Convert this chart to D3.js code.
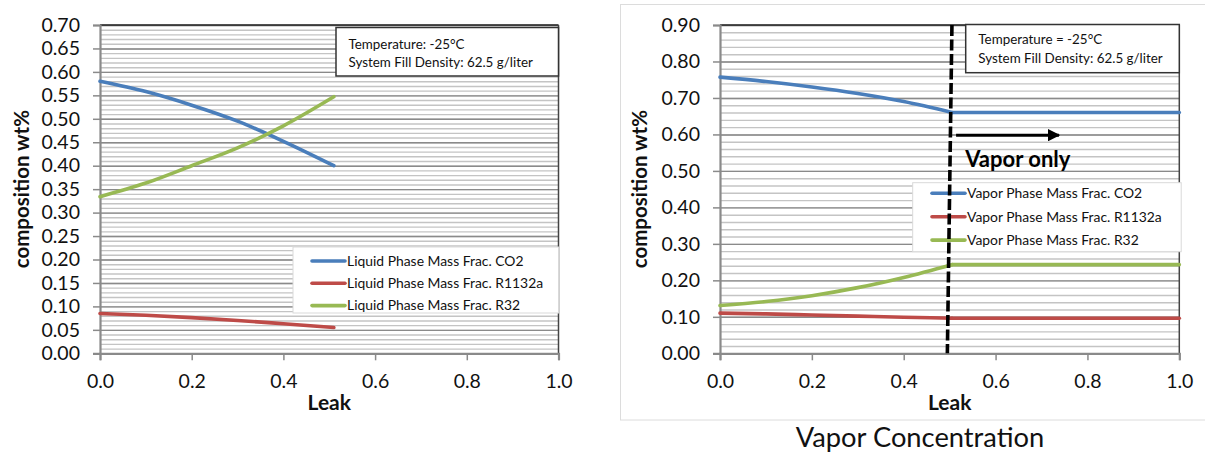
<!DOCTYPE html>
<html>
<head>
<meta charset="utf-8">
<script src="https://cdn.jsdelivr.net/npm/d3@7"></script>
<style>
  html, body { margin: 0; padding: 0; background: #fff; }
  svg { display: block; font-family: Lato, "Open Sans", sans-serif; }
</style>
</head>
<body>
<svg id="chart" width="1205" height="452"></svg>
<script>
// ---------- DATA ----------
const leftLeak      = [0, 0.1, 0.2, 0.3, 0.4, 0.51];
const leftCO2       = [0.580, 0.558, 0.529, 0.495, 0.452, 0.400];
const leftR1132a    = [0.085, 0.081, 0.076, 0.070, 0.063, 0.055];
const leftR32       = [0.334, 0.363, 0.400, 0.438, 0.485, 0.547];
const leftNames     = ["Liquid Phase Mass Frac. CO2", "Liquid Phase Mass Frac. R1132a", "Liquid Phase Mass Frac. R32"];

const rightLeak     = [0, 0.1, 0.2, 0.3, 0.4, 0.505, 1.0];
const rightCO2      = [0.757, 0.745, 0.730, 0.712, 0.690, 0.660, 0.660];
const rightR1132a   = [0.110, 0.108, 0.105, 0.102, 0.099, 0.096, 0.096];
const rightR32      = [0.131, 0.142, 0.158, 0.180, 0.208, 0.243, 0.243];
const rightNames    = ["Vapor Phase Mass Frac. CO2", "Vapor Phase Mass Frac. R1132a", "Vapor Phase Mass Frac. R32"];
const vaporBreakIndex = 5; // point where the liquid phase disappears

const xTicks        = [0, 0.2, 0.4, 0.6, 0.8, 1.0];
const leftYTicks    = [0, 0.05, 0.10, 0.15, 0.20, 0.25, 0.30, 0.35, 0.40, 0.45, 0.50, 0.55, 0.60, 0.65, 0.70];
const rightYTicks   = [0, 0.10, 0.20, 0.30, 0.40, 0.50, 0.60, 0.70, 0.80, 0.90];
const leftNote      = ["Temperature: -25°C", "System Fill Density: 62.5 g/liter"];
const rightNote     = ["Temperature = -25°C", "System Fill Density: 62.5 g/liter"];
const vaporLineLeak = [0.505, 0.495];   // top, bottom (hand-drawn, slightly slanted)
const arrowLeak     = [0.514, 0.738];
const arrowValue    = 0.598;
const vaporOnlyAt   = [0.534, 0.512];

const colors = ["#4A7EBB", "#BE4B48", "#98B954"];

// ---------- DRAW ----------
const svg = d3.select("#chart");

// frame around right chart
svg.append("rect").attr("x", 620.5).attr("y", 4.5).attr("width", 600).attr("height", 415.5)
  .attr("fill", "none").attr("stroke", "#dcdcdc").attr("stroke-width", 1);
svg.append("text").attr("x", 920).attr("y", 447).attr("text-anchor", "middle")
  .attr("font-size", 27.3).attr("fill", "#111").text("Vapor Concentration");

function panel(opt) {
  const g = svg.append("g");
  const x = d3.scaleLinear().domain([0, 1]).range([opt.x0, opt.x1]);
  const y = d3.scaleLinear().domain([0, opt.ymax]).range([opt.y1, opt.y0]);

  // minor gridlines
  const minor = d3.range(0, opt.ymax + 1e-9, opt.minor);
  g.append("g").call(d3.axisLeft(y).tickValues(minor).tickSize(-(opt.x1 - opt.x0)).tickFormat(""))
    .attr("transform", `translate(${opt.x0},0)`)
    .call(s => s.select(".domain").remove())
    .call(s => s.selectAll("line").attr("stroke", "#c4c4c4").attr("stroke-width", 1.4));
  // major gridlines
  g.append("g").call(d3.axisLeft(y).tickValues(opt.yTicks).tickSize(-(opt.x1 - opt.x0)).tickFormat(""))
    .attr("transform", `translate(${opt.x0},0)`)
    .call(s => s.select(".domain").remove())
    .call(s => s.selectAll("line").attr("stroke", "#8a8a8a").attr("stroke-width", 1.4));

  // top & right border
  g.append("line").attr("x1", opt.x0).attr("x2", opt.x1).attr("y1", opt.y0).attr("y2", opt.y0)
    .attr("stroke", "#222").attr("stroke-width", 1.5);
  g.append("line").attr("x1", opt.x1).attr("x2", opt.x1).attr("y1", opt.y0).attr("y2", opt.y1)
    .attr("stroke", "#444").attr("stroke-width", 1.5);

  // y axis
  const ya = g.append("g").attr("transform", `translate(${opt.x0},0)`)
    .call(d3.axisLeft(y).tickValues(opt.yTicks).tickSize(7).tickPadding(13).tickFormat(d3.format(".2f")));
  ya.select(".domain").attr("stroke", "#8a8a8a").attr("stroke-width", 2.2);
  ya.selectAll("line").attr("stroke", "#8a8a8a").attr("stroke-width", 1.5);
  ya.selectAll("text").attr("font-size", 19.5).attr("fill", "#111").attr("font-family", "Lato");

  // x axis
  const xa = g.append("g").attr("transform", `translate(0,${opt.y1})`)
    .call(d3.axisBottom(x).tickValues(xTicks).tickSize(7).tickPadding(14).tickFormat(d3.format(".1f")));
  xa.select(".domain").attr("stroke", "#8a8a8a").attr("stroke-width", 2.2);
  xa.selectAll("line").attr("stroke", "#8a8a8a").attr("stroke-width", 1.5);
  xa.selectAll("text").attr("font-size", 19.5).attr("fill", "#111").attr("font-family", "Lato");

  // axis titles
  g.append("text").attr("x", (opt.x0 + opt.x1) / 2).attr("y", 410).attr("text-anchor", "middle")
    .attr("font-size", 21).attr("font-weight", "bold").attr("fill", "#111").text("Leak");
  g.append("text").attr("transform", `translate(${opt.ylabX},${(opt.y0 + opt.y1) / 2}) rotate(-90)`)
    .attr("text-anchor", "middle").attr("font-size", 20.5).attr("font-weight", "bold").attr("fill", "#111")
    .text("composition wt%");

  return {g, x, y};
}

function drawSeries(p, leak, vals, color, split) {
  const pts = leak.map((d, i) => [d, vals[i]]);
  const curvePart = split != null ? pts.slice(0, split + 1) : pts;
  const line = d3.line().x(d => p.x(d[0])).y(d => p.y(d[1])).curve(d3.curveMonotoneX);
  p.g.append("path").attr("d", line(curvePart)).attr("fill", "none").attr("stroke", color)
    .attr("stroke-width", 3.6).attr("stroke-linecap", "round");
  if (split != null) {
    const lin = d3.line().x(d => p.x(d[0])).y(d => p.y(d[1]));
    p.g.append("path").attr("d", lin(pts.slice(split))).attr("fill", "none").attr("stroke", color)
      .attr("stroke-width", 3.6).attr("stroke-linecap", "round");
  }
}

function legend(p, bx, by, bw, bh, names, y0, dy, lx0, lx1) {
  p.g.append("rect").attr("x", bx).attr("y", by).attr("width", bw).attr("height", bh)
    .attr("fill", "#fff").attr("stroke", "#d9d9d9").attr("stroke-width", 1);
  names.forEach((n, i) => {
    p.g.append("line").attr("x1", lx0).attr("x2", lx1).attr("y1", y0 + i * dy).attr("y2", y0 + i * dy)
      .attr("stroke", colors[i]).attr("stroke-width", 3.6).attr("stroke-linecap", "round");
    p.g.append("text").attr("x", lx1 + 2).attr("y", y0 + i * dy).attr("dy", "0.35em")
      .attr("font-size", 13.9).attr("fill", "#111").text(n);
  });
}

function note(p, bx, by, bw, bh, lines, tx, ty0, dy) {
  p.g.append("rect").attr("x", bx).attr("y", by).attr("width", bw).attr("height", bh)
    .attr("fill", "#fff").attr("stroke", "#333").attr("stroke-width", 1.5);
  lines.forEach((t, i) => {
    p.g.append("text").attr("x", tx).attr("y", ty0 + i * dy).attr("font-size", 13.4)
      .attr("fill", "#111").text(t);
  });
}

// LEFT PANEL
const L = panel({x0: 100, x1: 558.5, y0: 25, y1: 353.3, ymax: 0.70, minor: 0.01, yTicks: leftYTicks, ylabX: 29});
note(L, 336, 27.5, 222.5, 48.5, leftNote, 348.5, 48.5, 18.5);
legend(L, 293, 247, 265.5, 66, leftNames, 261, 22.3, 312, 345);
drawSeries(L, leftLeak, leftCO2, colors[0]);
drawSeries(L, leftLeak, leftR1132a, colors[1]);
drawSeries(L, leftLeak, leftR32, colors[2]);

// RIGHT PANEL
const R = panel({x0: 720, x1: 1179.3, y0: 25, y1: 353.3, ymax: 0.90, minor: 0.02, yTicks: rightYTicks, ylabX: 647});
note(R, 965.7, 24.5, 213.6, 48.2, rightNote, 978.3, 43.5, 19.5);
legend(R, 912.7, 182.7, 268.5, 69, rightNames, 193.3, 23.4, 932, 965);
drawSeries(R, rightLeak, rightCO2, colors[0], vaporBreakIndex);
drawSeries(R, rightLeak, rightR1132a, colors[1], vaporBreakIndex);
drawSeries(R, rightLeak, rightR32, colors[2], vaporBreakIndex);

// dashed vertical separator
R.g.append("line").attr("x1", R.x(vaporLineLeak[0])).attr("y1", R.y(0.90))
  .attr("x2", R.x(vaporLineLeak[1])).attr("y2", R.y(0))
  .attr("stroke", "#000").attr("stroke-width", 3.6).attr("stroke-dasharray", "11,3.5");

// arrow
svg.append("defs").append("marker").attr("id", "arrowhead").attr("viewBox", "0 0 10 10")
  .attr("refX", 9).attr("refY", 5).attr("markerWidth", 4.2).attr("markerHeight", 4.2)
  .attr("orient", "auto").attr("markerUnits", "strokeWidth")
  .append("path").attr("d", "M0,0 L10,5 L0,10 z").attr("fill", "#000");
R.g.append("line").attr("x1", R.x(arrowLeak[0])).attr("x2", R.x(arrowLeak[1]))
  .attr("y1", R.y(arrowValue)).attr("y2", R.y(arrowValue))
  .attr("stroke", "#000").attr("stroke-width", 3).attr("marker-end", "url(#arrowhead)");
R.g.append("text").attr("x", R.x(vaporOnlyAt[0])).attr("y", R.y(vaporOnlyAt[1]))
  .attr("font-size", 22).attr("font-weight", "bold").attr("fill", "#000").text("Vapor only");
</script>
</body>
</html>
